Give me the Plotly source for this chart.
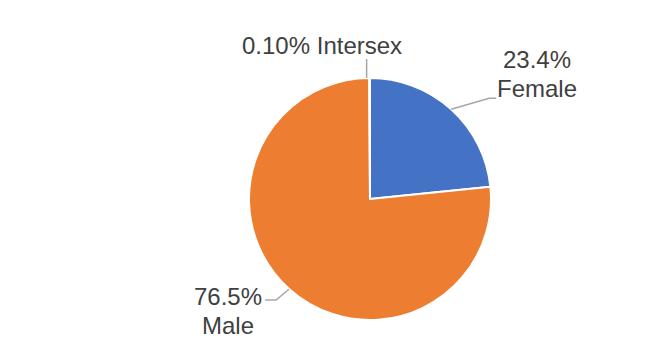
import math
import plotly.graph_objects as go

# Data
labels = ["Female", "Male", "Intersex"]
values = [23.4, 76.5, 0.10]
pct_text = ["23.4%", "76.5%", "0.10%"]
colors = ["#4472C4", "#ED7D31", "#A5A5A5"]

W, H = 662, 360
OFF = 8  # page body margin
CX, CY, R = 370, 199, 121  # pie placement in screen pixels

def px(x):
    return (x - OFF) / W

def py(y):
    return 1 - (y - OFF) / H

fig = go.Figure(go.Pie(
    labels=labels, values=values, sort=False, direction="clockwise", rotation=0,
    marker=dict(colors=colors, line=dict(color="white", width=2)),
    textinfo="none", hoverinfo="label+percent", showlegend=False,
    domain=dict(x=[px(CX - R), px(CX + R)], y=[py(CY + R), py(CY - R)]),
))

total = sum(values)
cum = 0
mids = []
for v in values:
    mids.append((cum + v / 2) / total * 2 * math.pi)
    cum += v

font = dict(family="Liberation Sans, Arial", size=24, color="#404040")
line_style = dict(color="#A6A6A6", width=1.5)

# each label: list of (text, x, y) lines
specs = {
    "Female": dict(elbow=(38, -11), end=7,
                   lines=[(pct_text[0], 537, 60), ("Female", 537, 89)]),
    "Male": dict(elbow=(-13, 11), end=-11,
                 lines=[(pct_text[1], 228, 296), ("Male", 228, 325)]),
    "Intersex": dict(elbow=(0, -19), end=0,
                     lines=[(f"{pct_text[2]} Intersex", 322, 46)]),
}

for lab, ang in zip(labels, mids):
    s = specs[lab]
    x0 = CX + R * math.sin(ang)
    y0 = CY - R * math.cos(ang)
    if lab == "Intersex":
        x0 -= 3
    x1, y1 = x0 + s["elbow"][0], y0 + s["elbow"][1]
    x2 = x1 + s["end"]
    path = f"M {px(x0)} {py(y0)} L {px(x1)} {py(y1)} L {px(x2)} {py(y1)}"
    fig.add_shape(type="path", path=path, xref="paper", yref="paper", line=line_style)
    for txt, tx, ty in s["lines"]:
        fig.add_annotation(x=px(tx), y=py(ty), xref="paper", yref="paper",
                           text=txt, showarrow=False, font=font, align="center",
                           xanchor="center", yanchor="middle")

fig.update_layout(width=W, height=H, margin=dict(l=0, r=0, t=0, b=0),
                  paper_bgcolor="white", plot_bgcolor="white")
fig.write_html("out.html")
